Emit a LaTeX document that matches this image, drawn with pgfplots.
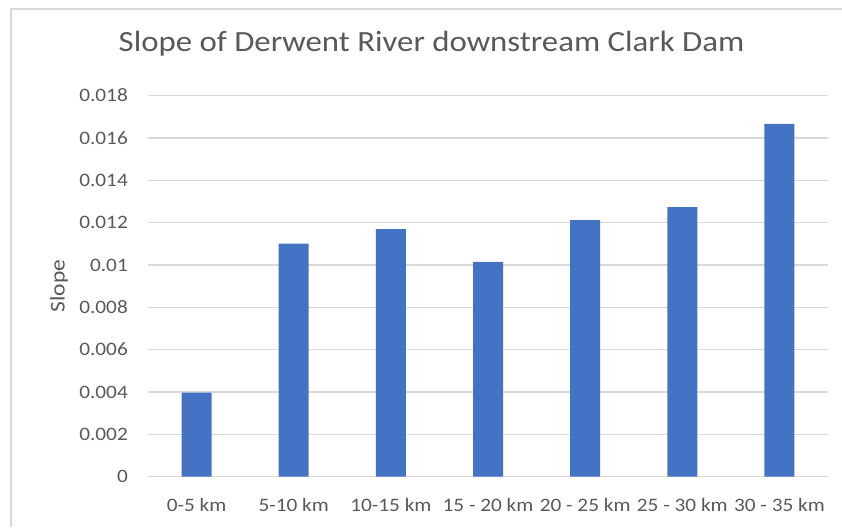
\documentclass[border=0pt]{standalone}
\usepackage{fontspec}
\setmainfont[FakeStretch=1.12]{Carlito}
\usepackage{pgfplots}
\pgfplotsset{compat=1.18}
\definecolor{txt}{HTML}{595959}
\definecolor{grd}{HTML}{D9D9D9}
\definecolor{bar}{HTML}{4472C4}
\begin{document}
\begin{tikzpicture}[x=1pt,y=1pt]
\path[use as bounding box] (0pt,0pt) rectangle (842pt,527pt);
\draw[grd, line width=1.5pt] (11pt,0pt) -- (11pt,518pt) -- (842pt,518pt);
\node[txt, font=\fontsize{29.3}{35}\selectfont, anchor=base] at (431.5pt,475.3pt) {Slope of Derwent River downstream Clark Dam};
\begin{axis}[
  scale only axis, width=680pt, height=381.2pt,
  at={(148pt,50.3pt)}, anchor=south west,
  xmin=-0.5, xmax=6.5, ymin=0, ymax=0.018,
  ybar, bar width=30pt,
  axis line style={draw=none},
  major tick length=0pt,
  ymajorgrids, grid style={grd, line width=1.3pt},
  xtick={0,1,2,3,4,5,6},
  xticklabels={0-5 km,5-10 km,10-15 km,15 - 20 km,20 - 25 km,25 - 30 km,30 - 35 km},
  ytick={0,0.002,0.004,0.006,0.008,0.01,0.012,0.014,0.016,0.018},
  yticklabels={0,0.002,0.004,0.006,0.008,0.01,0.012,0.014,0.016,0.018},
  scaled y ticks=false,
  /pgf/number format/assume math mode=true,
  ticklabel style={font=\fontsize{19}{22}\selectfont, text=txt},
  yticklabel style={anchor=east, inner sep=0pt, xshift=-20pt},
  xticklabel style={anchor=base, inner sep=0pt, yshift=-35pt},
  ylabel={Slope},
  ylabel style={at={(axis description cs:-0.1309,0.5)}, anchor=center, font=\fontsize{21}{24}\selectfont, text=txt},
  clip=false,
]
\addplot[fill=bar, draw=none] coordinates {(0,0.00397) (1,0.01101) (2,0.01169) (3,0.01014) (4,0.01211) (5,0.01273) (6,0.01666)};
\end{axis}
\end{tikzpicture}
\end{document}
